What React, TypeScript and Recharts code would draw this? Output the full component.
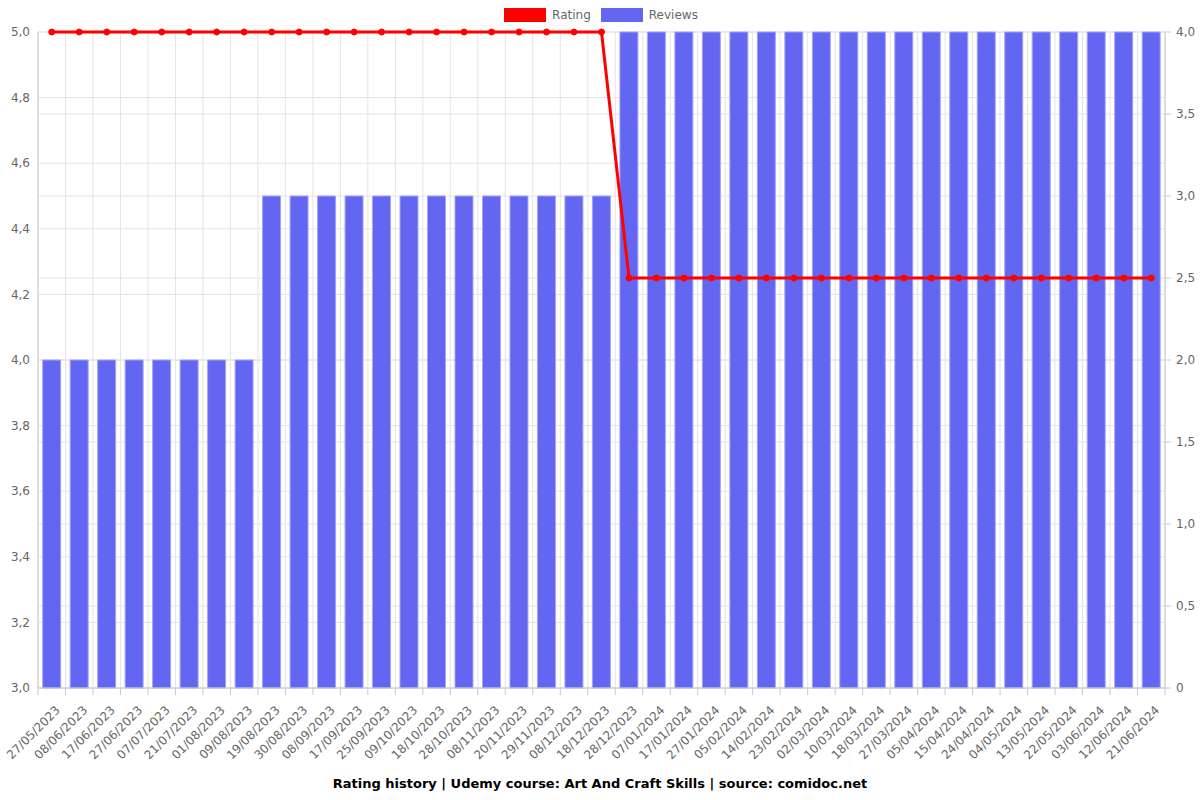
import React from 'react';
import { ComposedChart, Bar, Line, XAxis, YAxis, CartesianGrid } from 'recharts';

const dates = [
  '27/05/2023', '08/06/2023', '17/06/2023', '27/06/2023', '07/07/2023', '21/07/2023', '01/08/2023',
  '09/08/2023', '19/08/2023', '30/08/2023', '08/09/2023', '17/09/2023', '25/09/2023', '09/10/2023',
  '18/10/2023', '28/10/2023', '08/11/2023', '20/11/2023', '29/11/2023', '08/12/2023', '18/12/2023',
  '28/12/2023', '07/01/2024', '17/01/2024', '27/01/2024', '05/02/2024', '14/02/2024', '23/02/2024',
  '02/03/2024', '10/03/2024', '18/03/2024', '27/03/2024', '05/04/2024', '15/04/2024', '24/04/2024',
  '04/05/2024', '13/05/2024', '22/05/2024', '03/06/2024', '12/06/2024', '21/06/2024',
];

const ratings = [
  5, 5, 5, 5, 5, 5, 5,
  5, 5, 5, 5, 5, 5, 5,
  5, 5, 5, 5, 5, 5, 5,
  4.25, 4.25, 4.25, 4.25, 4.25, 4.25, 4.25,
  4.25, 4.25, 4.25, 4.25, 4.25, 4.25, 4.25,
  4.25, 4.25, 4.25, 4.25, 4.25, 4.25,
];

const reviews = [
  2, 2, 2, 2, 2, 2, 2,
  2, 3, 3, 3, 3, 3, 3,
  3, 3, 3, 3, 3, 3, 3,
  4, 4, 4, 4, 4, 4, 4,
  4, 4, 4, 4, 4, 4, 4,
  4, 4, 4, 4, 4, 4,
];

const ratingTicks = [3, 3.2, 3.4, 3.6, 3.8, 4, 4.2, 4.4, 4.6, 4.8, 5];
const reviewTicks = [0, 0.5, 1, 1.5, 2, 2.5, 3, 3.5, 4];
const legendItems = [
  { label: 'Rating', color: '#ff0000' },
  { label: 'Reviews', color: '#6366f1' },
];
const title = 'Rating history | Udemy course: Art And Craft Skills | source: comidoc.net';

const data = dates.map((date, i) => ({ date, rating: ratings[i], reviews: reviews[i] }));

const W = 1200;
const H = 800;
const margin = { top: 32, right: 5, left: 8, bottom: 32 };
const yAxisW = 30;
const plotW = W - margin.left - margin.right - 2 * yAxisW;
const bw = plotW / dates.length;
const FONT = '"DejaVu Sans", Verdana, sans-serif';
const GRID = '#e4e4e4';
const AXIS = '#c8c8c8';
const TEXT = '#666666';

const fmtLeft = (v: number) => v.toFixed(1).replace('.', ',');
const fmtRight = (v: number) => (v === 0 ? '0' : v.toFixed(1).replace('.', ','));

const XTick = (props: any) => {
  const { x, y, payload, index } = props;
  const tx = x + 6;
  const ty = y + 20;
  return (
    <g>
      <line x1={x - bw / 2} y1={y} x2={x - bw / 2} y2={y + 7} stroke={AXIS} />
      {index === dates.length - 1 && (
        <line x1={x + bw / 2} y1={y} x2={x + bw / 2} y2={y + 7} stroke={AXIS} />
      )}
      <text
        x={tx}
        y={ty}
        transform={`rotate(-45, ${tx}, ${ty})`}
        textAnchor="end"
        dy="0.35em"
        fontSize={12}
        fontFamily={FONT}
        fill={TEXT}
      >
        {payload.value}
      </text>
    </g>
  );
};

export default function App() {
  return (
    <div style={{ position: 'absolute', left: 0, top: 0, width: W, height: H, background: '#fff' }}>
      <ComposedChart width={W} height={H} data={data} margin={margin} barCategoryGap="17%">
        <CartesianGrid
          yAxisId="left"
          stroke={GRID}
          verticalCoordinatesGenerator={({ offset }: any) =>
            Array.from({ length: dates.length + 1 }, (_, i) => offset.left + (i * offset.width) / dates.length)
          }
        />
        <CartesianGrid yAxisId="right" stroke={GRID} vertical={false} />
        <XAxis
          dataKey="date"
          interval={0}
          height={80}
          tickLine={false}
          tickSize={0}
          tickMargin={0}
          axisLine={{ stroke: AXIS }}
          tick={<XTick />}
        />
        <YAxis
          yAxisId="left"
          orientation="left"
          width={yAxisW}
          domain={[3, 5]}
          ticks={ratingTicks}
          tickFormatter={fmtLeft}
          tickLine={false}
          axisLine={{ stroke: AXIS }}
          tick={{ fontSize: 12, fontFamily: FONT, fill: TEXT }}
        />
        <YAxis
          yAxisId="right"
          orientation="right"
          width={yAxisW}
          domain={[0, 4]}
          ticks={reviewTicks}
          tickFormatter={fmtRight}
          tickSize={6}
          tickMargin={5}
          tickLine={{ stroke: AXIS }}
          axisLine={{ stroke: AXIS }}
          tick={{ fontSize: 12, fontFamily: FONT, fill: TEXT }}
        />
        <Bar
          yAxisId="right"
          dataKey="reviews"
          fill="#6366f1"
          stroke="#a3a5f7"
          strokeWidth={1}
          isAnimationActive={false}
        />
        <Line
          yAxisId="left"
          dataKey="rating"
          type="linear"
          stroke="#ff0000"
          strokeWidth={3}
          dot={{ r: 3, fill: '#ff0000', stroke: '#ff0000', strokeWidth: 1 }}
          activeDot={false}
          isAnimationActive={false}
        />
      </ComposedChart>
      <div
        style={{
          position: 'absolute',
          top: 8,
          left: 1,
          width: W,
          display: 'flex',
          justifyContent: 'center',
          alignItems: 'center',
          fontFamily: FONT,
          fontSize: 12,
          color: TEXT,
        }}
      >
        {legendItems.map((it) => (
          <div key={it.label} style={{ display: 'flex', alignItems: 'center', margin: '0 5px' }}>
            <span style={{ display: 'inline-block', width: 42, height: 14, background: it.color, marginRight: 6 }} />
            <span>{it.label}</span>
          </div>
        ))}
      </div>
      <div
        style={{
          position: 'absolute',
          top: 776,
          left: 0,
          width: W,
          textAlign: 'center',
          fontFamily: FONT,
          fontSize: 13,
          fontWeight: 'bold',
          color: '#000',
        }}
      >
        {title}
      </div>
    </div>
  );
}
